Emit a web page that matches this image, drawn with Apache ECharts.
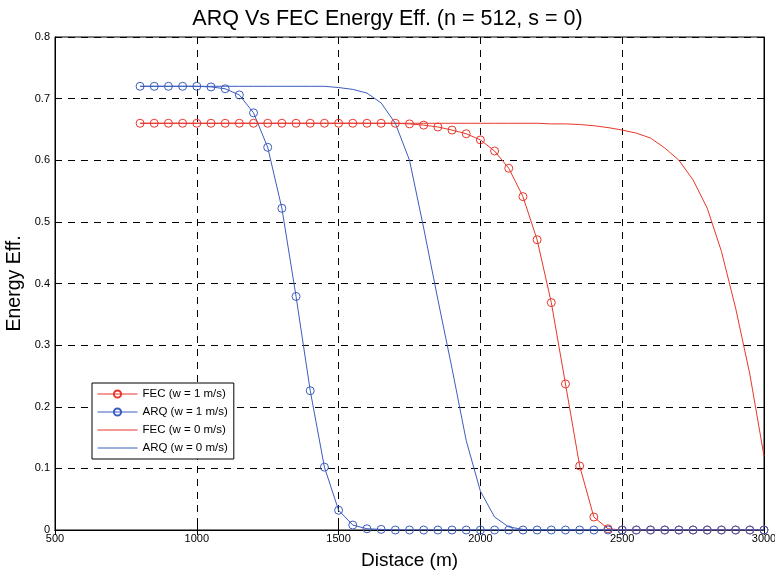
<!DOCTYPE html>
<html>
<head>
<meta charset="utf-8">
<script src="https://cdn.jsdelivr.net/npm/echarts@6/dist/echarts.min.js"></script>
<style>html,body{margin:0;padding:0;background:#fff}#c{width:775px;height:574px}</style>
</head>
<body>
<div id="c"></div>
<script>
var distance = [800,850,900,950,1000,1050,1100,1150,1200,1250,1300,1350,1400,1450,1500,1550,1600,1650,1700,1750,1800,1850,1900,1950,2000,2050,2100,2150,2200,2250,2300,2350,2400,2450,2500,2550,2600,2650,2700,2750,2800,2850,2900,2950,3000];
var fecW1 = [0.66,0.66,0.66,0.66,0.66,0.66,0.66,0.66,0.66,0.66,0.66,0.66,0.66,0.66,0.66,0.66,0.66,0.66,0.66,
  0.659,0.657,0.654,0.649,0.643,0.633,0.615,0.587,0.541,0.471,0.369,0.237,0.104,0.021,0.002,
  0,0,0,0,0,0,0,0,0,0,0];
var arqW1 = [0.72,0.72,0.72,0.72,0.72,0.719,0.716,0.706,0.677,0.621,0.522,0.379,0.226,0.102,0.032,0.008,0.002,0.001,
  0,0,0,0,0,0,0,0,0,0,0,0,0,0,0,0,0,0,0,0,0,0,0,0,0,0,0];
var fecW0 = [0.66,0.66,0.66,0.66,0.66,0.66,0.66,0.66,0.66,0.66,0.66,0.66,0.66,0.66,0.66,0.66,0.66,0.66,0.66,0.66,0.66,0.66,0.66,0.66,0.66,0.66,0.66,0.66,
  0.66,0.659,0.659,0.658,0.656,0.653,0.649,0.644,0.636,0.62,0.6,0.568,0.522,0.452,0.36,0.253,0.12];
var arqW0 = [0.72,0.72,0.72,0.72,0.72,0.72,0.72,0.72,0.72,0.72,0.72,0.72,0.72,0.72,
  0.718,0.715,0.709,0.693,0.66,0.6,0.49,0.374,0.262,0.145,0.063,0.021,0.005,0.001,
  0,0,0,0,0,0,0,0,0,0,0,0,0,0,0,0,0];
var seriesNames = ['FEC (w = 1 m/s)','ARQ (w = 1 m/s)','FEC (w = 0 m/s)','ARQ (w = 0 m/s)'];
var xTicks = [500,1000,1500,2000,2500,3000];
var yTicks = [0,0.1,0.2,0.3,0.4,0.5,0.6,0.7,0.8];

var RED = '#e8372b', BLUE = '#3b5cbf';
function pairs(ys){ return distance.map(function(x,i){ return [x, ys[i]]; }); }

var font = 'Liberation Sans, Arial, sans-serif';
var chart = echarts.init(document.getElementById('c'), null, {renderer:'canvas'});
var grid = {left:55, right:11, top:37, bottom:44, outerBoundsMode:'none', containLabel:false,
  show:true, borderColor:'#000', borderWidth:1, backgroundColor:'#fff'};
function mkSeries(name, ys, color, marker){
  return {
    name:name, type:'line', data:pairs(ys), xAxisIndex:0, yAxisIndex:0,
    symbol: marker ? 'circle' : 'none', symbolSize:8, showSymbol: marker,
    lineStyle:{color:color, width:1},
    itemStyle:{color:'rgba(255,255,255,0)', borderColor:color, borderWidth:1},
    emphasis:{disabled:true},
    animation:false, z:3
  };
}
chart.setOption({
  animation:false,
  backgroundColor:'#fff',
  title:{text:'ARQ Vs FEC Energy Eff. (n = 512, s = 0)', left:'center', top:3,
    textStyle:{fontFamily:font, fontSize:21.5, fontWeight:'normal', color:'#000'}},
  grid:grid,
  legend:{
    orient:'vertical', left:92, top:383, padding:[5,6,5,5], itemGap:6,
    itemWidth:40, itemHeight:9,
    borderColor:'#000', borderWidth:1, backgroundColor:'#fff',
    lineStyle:{width:1},
    textStyle:{fontFamily:font, fontSize:11.5, color:'#000'},
    data:[
      {name:seriesNames[0]},
      {name:seriesNames[1]},
      {name:seriesNames[2], itemStyle:{opacity:0}},
      {name:seriesNames[3], itemStyle:{opacity:0}}
    ]
  },
  xAxis:[{
    type:'value', min:500, max:3000, interval:500,
    name:'Distace (m)', nameLocation:'middle', nameGap:21, nameMoveOverlap:false,
    nameTextStyle:{fontFamily:font, fontSize:19, color:'#000'},
    axisLine:{show:true, lineStyle:{color:'#000'}},
    axisTick:{show:true, inside:true, length:5, lineStyle:{color:'#000'}},
    axisLabel:{fontFamily:font, fontSize:11, color:'#000', margin:3,
      formatter:function(v){ return String(v); }},
    splitLine:{show:true, lineStyle:{color:'#000', type:[7,6], width:1}}
  },{
    type:'value', min:500, max:3000, interval:500, position:'top',
    axisLine:{show:true, lineStyle:{color:'#000'}},
    axisTick:{show:true, inside:true, length:5, lineStyle:{color:'#000'}},
    axisLabel:{show:false}, splitLine:{show:false}
  }],
  yAxis:[{
    type:'value', min:0, max:0.8, interval:0.1,
    name:'Energy Eff.', nameLocation:'middle', nameGap:30, nameMoveOverlap:false,
    nameTextStyle:{fontFamily:font, fontSize:19.5, color:'#000'},
    axisLine:{show:true, lineStyle:{color:'#000'}},
    axisTick:{show:true, inside:true, length:5, lineStyle:{color:'#000'}},
    axisLabel:{fontFamily:font, fontSize:11, color:'#000', margin:5,
      formatter:function(v){ return String(Math.round(v*10)/10); }},
    splitLine:{show:true, lineStyle:{color:'#000', type:[7,6], width:1}}
  },{
    type:'value', min:0, max:0.8, interval:0.1, position:'right',
    axisLine:{show:true, lineStyle:{color:'#000'}},
    axisTick:{show:true, inside:true, length:5, lineStyle:{color:'#000'}},
    axisLabel:{show:false}, splitLine:{show:false}
  }],
  series:[
    mkSeries(seriesNames[0], fecW1, RED, true),
    mkSeries(seriesNames[1], arqW1, BLUE, true),
    mkSeries(seriesNames[2], fecW0, RED, false),
    mkSeries(seriesNames[3], arqW0, BLUE, false)
  ]
});
</script>
</body>
</html>
